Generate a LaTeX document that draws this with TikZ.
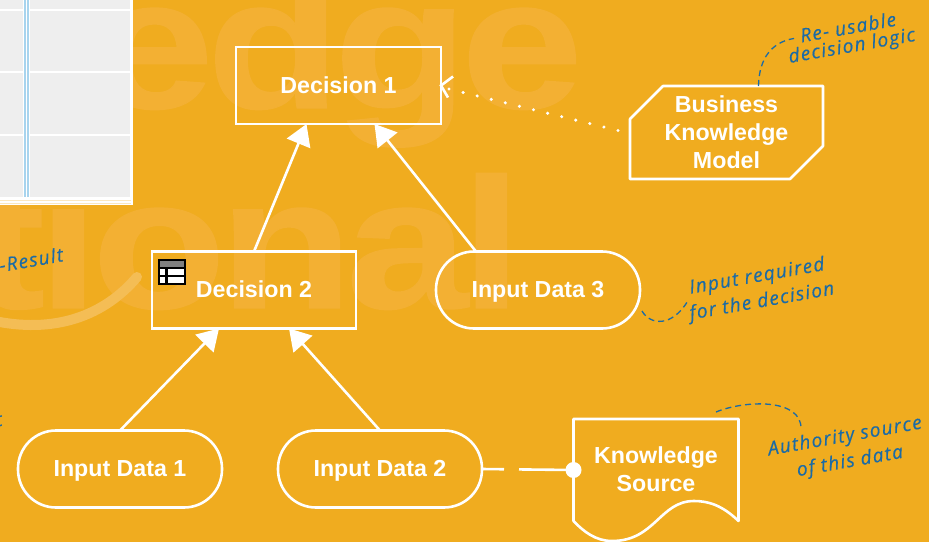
\documentclass[tikz,border=0pt]{standalone}
\usepackage{fontspec}
\setmainfont{Liberation Sans}
\newfontfamily\hand{Open Sans}[LetterSpace=7,FakeBold=0.4]
\newfontfamily\wmf{Liberation Sans Bold}[FakeBold=0.6]
\usetikzlibrary{arrows.meta,calc}
\definecolor{bgc}{HTML}{F0AC1F}
\definecolor{wm}{HTML}{F3B033}
\definecolor{arcc}{HTML}{F4BD55}
\definecolor{noteblue}{HTML}{1B6BA6}
\definecolor{cellg}{HTML}{EEEEEE}
\definecolor{lblue}{HTML}{A8D4EE}
\definecolor{cream}{HTML}{FBE7BE}
\definecolor{icong}{HTML}{808080}
\tikzset{
  x=1pt,y=-1pt,
  lbl/.style={text=white,font=\bfseries\fontsize{23.2}{28}\selectfont,align=center,inner sep=0pt,outer sep=0pt},
  boxn/.style={lbl,draw=white,line width=2.6pt,minimum height=77pt,text height=15.5pt,text depth=0pt},
  pill/.style={boxn,rounded corners=38pt,minimum width=204pt},
  ghost/.style={lbl},
  wline/.style={draw=white,line width=2.6pt},
  rel/.style={wline,-{Triangle[length=21pt,width=25pt,fill=white]}},
  note/.style={text=noteblue,font=\hand\itshape\fontsize{19}{22}\selectfont,rotate=10,inner sep=0pt},
  notel/.style={draw=noteblue,line width=1.3pt,dash pattern=on 6pt off 4pt},
  wmark/.style={text=wm,font=\wmf\fontsize{186}{186}\selectfont,inner sep=0pt}
}
\newcommand{\wmw}[1]{\scalebox{1.18}[1]{#1}}
\begin{document}
\begin{tikzpicture}
\useasboundingbox (0,0) rectangle (929,542);
\clip (0,0) rectangle (929,542);
\fill[bgc] (0,0) rectangle (929,542);
% watermark
\node[wmark,anchor=base east] (wma) at (583,108) {\wmw{e\kern-6pt d\kern-6pt g\kern-6pt e}};
\node[wmark,anchor=base east] (wmb) at (522,308) {\wmw{t\kern-6pt i\kern-6pt o\kern-6pt n\kern-6pt a\kern-6pt l}};
\draw[arcc,line width=10pt,line cap=round] (137,277) .. controls (105,315) and (55,335) .. (-10,320);
% table fragment
\fill[white] (-2,-2) rectangle (133,205);
\fill[cellg] (-2,-2) rectangle (130,197);
\foreach \yy in {10,72,135}{\draw[white,line width=2pt] (-2,\yy) -- (130,\yy);}
\fill[white] (23,-2) rectangle (30,197);
\fill[lblue] (24,-2) rectangle (26,197);
\fill[lblue] (27,-2) rectangle (29,197);
\fill[cream] (-2,199.5) rectangle (131,201);
\fill[cream] (-2,202.5) rectangle (131,204);
% nodes
\node[boxn,minimum width=205pt] (d1) at (338.5,85.5) {Decision 1};
\node[boxn,minimum width=204pt] (d2) at (254,290) {Decision 2};
\node[pill] (i3) at (538,290) {Input Data 3};
\node[pill] (i1) at (120,469) {Input Data 1};
\node[pill] (i2) at (380,469) {Input Data 2};
\node[ghost,minimum width=193pt,minimum height=93pt] (bkm) at (726.5,132.5) {Business\\Knowledge\\Model};
\node[ghost,minimum width=165pt,minimum height=104pt] (ks) at (656,469) {Knowledge\\Source};
\draw[wline,line join=round] ([yshift=-33pt]bkm.north west) -- ([xshift=33pt]bkm.north west) -- (bkm.north east) -- ([yshift=33pt]bkm.south east) -- ([xshift=-33pt]bkm.south east) -- (bkm.south west) -- cycle;
\draw[wline,line join=round] ([yshift=-2pt]ks.north west) -- ([yshift=-2pt]ks.north east) -- (ks.south east)
  .. controls (722,505) and (708,501) .. (694,501) .. controls (660,501) and (655,541) .. (612,541)
  .. controls (596,541) and (584,532) .. (ks.south west) -- cycle;
% table icon
\node[fill=white,outer sep=0pt,minimum width=26pt,minimum height=24pt,inner sep=0pt] (ico) at (172,272) {};
\fill[icong] (ico.north west) rectangle ([yshift=-7pt]ico.north east);
\draw[black,line width=2.4pt] ([yshift=-8pt]ico.north west) -- ([yshift=-8pt]ico.north east);
\draw[black,line width=2.4pt] ([yshift=-16pt]ico.north west) -- ([yshift=-16pt]ico.north east);
\draw[black,line width=2.4pt] ([yshift=-8pt,xshift=7.5pt]ico.north west) -- ([xshift=7.5pt]ico.south west);
\draw[black,line width=2.6pt] (ico.north west) rectangle (ico.south east);
% connectors
\draw[rel] (d2.north) -- ([xshift=-32pt]d1.south);
\draw[rel] ([xshift=-62pt]i3.north) -- ([xshift=36pt]d1.south);
\draw[rel] (i1.north) -- ([xshift=-35pt]d2.south);
\draw[rel] (i2.north) -- ([xshift=35pt]d2.south);
\draw[white,line width=3.4pt,line cap=round,dash pattern=on 0pt off 14.5pt] ([xshift=-12pt,yshift=2pt]bkm.west) -- ([xshift=6pt,yshift=-3pt]d1.east);
\draw[white,line width=2.6pt] ([xshift=12pt,yshift=9pt]d1.east) -- ([yshift=0pt]d1.east) -- ([xshift=7pt,yshift=-12pt]d1.east);
\draw[white,line width=2.6pt,dash pattern=on 22pt off 15pt on 60pt off 0pt] (i2.east) -- ([yshift=-1pt]ks.west);
\fill[white] ([yshift=-1pt]ks.west) circle (8pt);
% notes
\node[note] (n1a) at (848,27) {Re- usable};
\node[note] (n1b) at (852,47) {decision logic};
\node[note] (n2a) at (757,277) {Input required};
\node[note] (n2b) at (762,302) {for the decision};
\node[note] (n3a) at (845,437) {Authority source};
\node[note] (n3b) at (850,462) {of this data};
\node[note,anchor=east] (n4) at (63,254) {-Result};
\node[note] (n5) at (-1,420) {t};
\draw[notel] ([xshift=32pt]bkm.north) .. controls (759,58) and (772,42) .. ([xshift=-6pt,yshift=-3pt]n1a.west);
\draw[notel] (i3.east) ++(2pt,-21pt) .. controls (650,325) and (672,328) .. ([xshift=-1pt,yshift=-11pt]n2a.west);
\draw[notel] ([xshift=60pt,yshift=5pt]ks.north) .. controls (745,400) and (802,398) .. ([xshift=-44pt,yshift=8pt]n3a.center);
\end{tikzpicture}
\end{document}
